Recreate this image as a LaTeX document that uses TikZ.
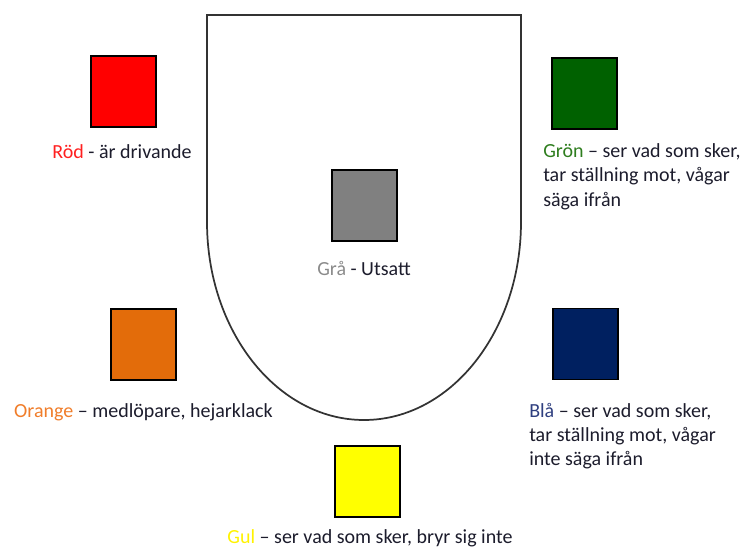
\documentclass[tikz,border=0pt]{standalone}
\usepackage{fontspec}
\setmainfont{Carlito}
\usetikzlibrary{positioning}
\definecolor{rodfill}{HTML}{FF0000}
\definecolor{gronfill}{HTML}{006100}
\definecolor{grafill}{HTML}{808080}
\definecolor{orangefill}{HTML}{E36C0A}
\definecolor{blafill}{HTML}{002060}
\definecolor{gulfill}{HTML}{FFFF00}
\definecolor{rodtext}{HTML}{FF2020}
\definecolor{grontext}{HTML}{2E7D1E}
\definecolor{gratext}{HTML}{8A8A8A}
\definecolor{orangetext}{HTML}{F07D2A}
\definecolor{blatext}{HTML}{2F3F7F}
\definecolor{gultext}{HTML}{FFF200}
\definecolor{bodytext}{HTML}{1C1C2C}

\begin{document}
\begin{tikzpicture}[x=0.75pt, y=-0.75pt,
    colsq/.style={rectangle, draw=black, line width=0.9pt, minimum width=48.75pt, minimum height=53.25pt, inner sep=0pt},
    lbl/.style={inner sep=0pt, text=bodytext, font=\fontsize{15}{18}\selectfont}]
        \useasboundingbox (0,0) rectangle (746,549);

        % Outline of the group
        \draw[line width=1.3pt, draw=black!80] (207,15) -- (521,15) -- (521,222)
            arc[start angle=0, end angle=-180, x radius=117.75pt, y radius=148.5pt] -- cycle;

        % Coloured squares
        \node[colsq, fill=rodfill] (sqRod) at (123.5,91.5) {};
        \node[colsq, fill=gronfill] (sqGron) at (584.5,93.5) {};
        \node[colsq, fill=grafill] (sqGra) at (364.5,205.5) {};
        \node[colsq, fill=orangefill] (sqOrange) at (143.5,344.5) {};
        \node[colsq, fill=blafill] (sqBla) at (585.5,344) {};
        \node[colsq, fill=gulfill] (sqGul) at (367.5,481.5) {};

        % Labels (multi-line ones sit on their last baseline)
        \node[lbl, anchor=base] (lblRod) at (122,159) {\textcolor{rodtext}{Röd} - är drivande};
        \node[lbl, anchor=base west, align=left] (lblGron) at (543,206)
        {\textcolor{grontext}{Grön} – ser vad som sker,\\ tar ställning mot, vågar\\ säga ifrån};
        \node[lbl, anchor=base] (lblGra) at (364,275) {\textcolor{gratext}{Grå} - Utsatt};
        \node[lbl, anchor=base] (lblOrange) at (143.5,417) {\textcolor{orangetext}{Orange} – medlöpare, hejarklack};
        \node[lbl, anchor=base west, align=left] (lblBla) at (529,465)
        {\textcolor{blatext}{Blå} – ser vad som sker,\\ tar ställning mot, vågar\\ inte säga ifrån};
        \node[lbl, anchor=base] (lblGul) at (370,543) {\textcolor{gultext}{Gul} – ser vad som sker, bryr sig inte};

\end{tikzpicture}
\end{document}
